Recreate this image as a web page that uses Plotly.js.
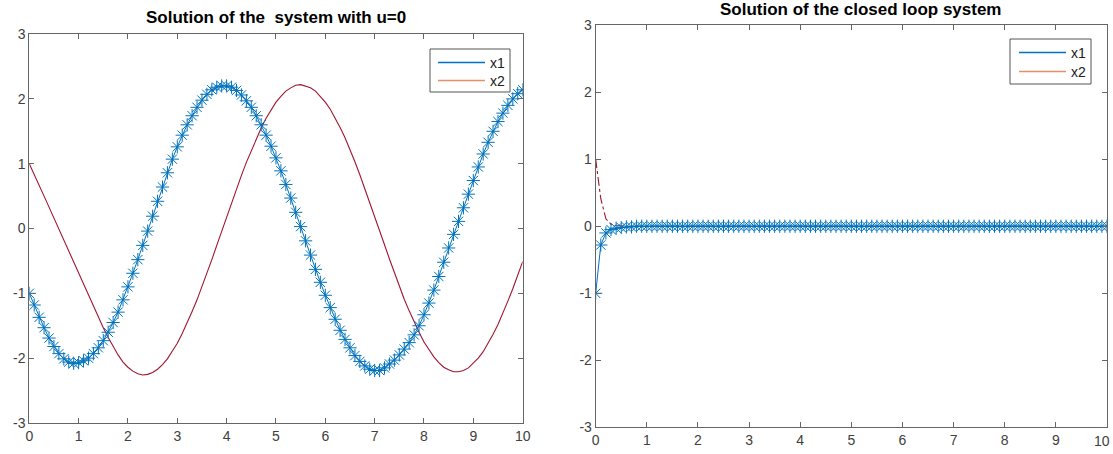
<!DOCTYPE html>
<html>
<head>
<meta charset="utf-8">
<script src="https://cdn.plot.ly/plotly-3.0.1.min.js"></script>
<style>html,body{margin:0;padding:0;background:#fff;}#chart{width:1113px;height:454px;}</style>
</head>
<body>
<div id="chart"></div>
<script>
var t = [0,0.1,0.2,0.3,0.4,0.5,0.6,0.7,0.8,0.9,
1,1.1,1.2,1.3,1.4,1.5,1.6,1.7,1.8,1.9,
2,2.1,2.2,2.3,2.4,2.5,2.6,2.7,2.8,2.9,
3,3.1,3.2,3.3,3.4,3.5,3.6,3.7,3.8,3.9,
4,4.1,4.2,4.3,4.4,4.5,4.6,4.7,4.8,4.9,
5,5.1,5.2,5.3,5.4,5.5,5.6,5.7,5.8,5.9,
6,6.1,6.2,6.3,6.4,6.5,6.6,6.7,6.8,6.9,
7,7.1,7.2,7.3,7.4,7.5,7.6,7.7,7.8,7.9,
8,8.1,8.2,8.3,8.4,8.5,8.6,8.7,8.8,8.9,
9,9.1,9.2,9.3,9.4,9.5,9.6,9.7,9.8,9.9,10];

var openX1 = [-1.00,-1.18,-1.37,-1.53,-1.69,-1.82,-1.93,-2.01,-2.06,-2.08,
-2.07,-2.04,-2.00,-1.93,-1.84,-1.73,-1.60,-1.45,-1.29,-1.10,
-0.90,-0.69,-0.48,-0.26,-0.04,0.19,0.42,0.64,0.86,1.07,
1.26,1.44,1.60,1.74,1.87,1.98,2.07,2.14,2.18,2.20,
2.20,2.18,2.13,2.06,1.97,1.87,1.74,1.60,1.44,1.27,
1.09,0.89,0.68,0.47,0.25,0.03,-0.19,-0.41,-0.63,-0.83,
-1.03,-1.22,-1.40,-1.57,-1.71,-1.84,-1.96,-2.05,-2.12,-2.17,
-2.19,-2.19,-2.15,-2.09,-2.03,-1.95,-1.86,-1.76,-1.64,-1.50,
-1.33,-1.15,-0.95,-0.74,-0.52,-0.30,-0.09,0.11,0.32,0.53,
0.74,0.95,1.15,1.33,1.50,1.65,1.78,1.90,2.00,2.08,2.14];

var openX2 = [1.00,0.84,0.67,0.50,0.33,0.16,-0.01,-0.18,-0.35,-0.52,
-0.69,-0.86,-1.03,-1.20,-1.37,-1.53,-1.68,-1.82,-1.95,-2.06,
-2.14,-2.20,-2.24,-2.26,-2.25,-2.22,-2.17,-2.10,-2.01,-1.89,
-1.77,-1.62,-1.46,-1.28,-1.10,-0.90,-0.69,-0.48,-0.26,-0.04,
0.18,0.39,0.61,0.82,1.02,1.20,1.38,1.55,1.70,1.83,
1.95,2.04,2.12,2.17,2.21,2.22,2.20,2.17,2.12,2.04,
1.95,1.84,1.71,1.56,1.40,1.22,1.03,0.83,0.62,0.41,
0.19,-0.03,-0.25,-0.47,-0.68,-0.89,-1.09,-1.27,-1.44,-1.60,
-1.75,-1.87,-1.98,-2.07,-2.14,-2.18,-2.21,-2.21,-2.19,-2.15,
-2.08,-2.00,-1.90,-1.77,-1.63,-1.48,-1.31,-1.12,-0.93,-0.72,-0.51];

var closedX1 = [-1.00,-0.28,-0.10,-0.05,-0.03,-0.02,-0.01,-0.01,0,0,
0,0,0,0,0,0,0,0,0,0,
0,0,0,0,0,0,0,0,0,0,
0,0,0,0,0,0,0,0,0,0,
0,0,0,0,0,0,0,0,0,0,
0,0,0,0,0,0,0,0,0,0,
0,0,0,0,0,0,0,0,0,0,
0,0,0,0,0,0,0,0,0,0,
0,0,0,0,0,0,0,0,0,0,
0,0,0,0,0,0,0,0,0,0,0];

var closedX2 = [1.00,0.41,0.11,0.03,0.01,0,0,0,0,0,
0,0,0,0,0,0,0,0,0,0,
0,0,0,0,0,0,0,0,0,0,
0,0,0,0,0,0,0,0,0,0,
0,0,0,0,0,0,0,0,0,0,
0,0,0,0,0,0,0,0,0,0,
0,0,0,0,0,0,0,0,0,0,
0,0,0,0,0,0,0,0,0,0,
0,0,0,0,0,0,0,0,0,0,
0,0,0,0,0,0,0,0,0,0,0];

var xTicks = [0,1,2,3,4,5,6,7,8,9,10];
var xTickText = ['0','1','2','3','4','5','6','7','8','9','10'];
var yTicks = [-3,-2,-1,0,1,2,3];
var yTickText = ['-3','-2','-1','0','1','2','3'];
var seriesNames = ['x1','x2'];
var titles = ['Solution of the  system with u=0', 'Solution of the closed loop system'];

var BLUE = '#0072BD', ORANGE = '#D95319', MAROON = '#A2142F';
var FONT = 'Liberation Sans, Arial, sans-serif';
var W = 1113, H = 454;
function px(x){ return x / W; }
function py(y){ return 1 - y / H; }

var markerStyle = {symbol:'asterisk-open', size:11, color:BLUE, line:{color:BLUE, width:1}};

var traces = [
  {x:t, y:openX2, mode:'lines', line:{color:MAROON, width:1.1}, xaxis:'x', yaxis:'y', hoverinfo:'skip'},
  {x:t, y:openX1, mode:'lines+markers', line:{color:BLUE, width:1}, marker:markerStyle, xaxis:'x', yaxis:'y', hoverinfo:'skip'},
  {x:t, y:closedX2, mode:'lines', line:{color:MAROON, width:1.1, dash:'dashdot'}, xaxis:'x2', yaxis:'y2', hoverinfo:'skip'},
  {x:t, y:closedX1, mode:'lines+markers', line:{color:BLUE, width:1}, marker:markerStyle, xaxis:'x2', yaxis:'y2', hoverinfo:'skip'}
];

var AX = '#666666', TICKC = '#404040';
function xax(dom, anchor, vals, txt){
  return {domain:dom, anchor:anchor, range:[0,10], tickvals:vals, ticktext:txt,
    ticks:'inside', ticklen:5, tickcolor:AX, mirror:'ticks', showline:true, linecolor:AX, linewidth:1,
    showgrid:false, zeroline:false, tickfont:{family:FONT, size:14, color:TICKC}, fixedrange:true};
}
function yax(dom, anchor){
  return {domain:dom, anchor:anchor, range:[-3,3], tickvals:yTicks, ticktext:yTickText,
    ticks:'inside', ticklen:5, tickcolor:AX, mirror:'ticks', showline:true, linecolor:AX, linewidth:1,
    showgrid:false, zeroline:false, tickfont:{family:FONT, size:14, color:TICKC}, fixedrange:true};
}

// legend drawn as boxes, sample lines and labels (positions in pixels)
var legends = [
  {box:[430, 49, 510, 92], rows:[62.5, 80.5], lineX:[438, 485], textX:488},
  {box:[1010, 39, 1091, 84], rows:[52.5, 71.5], lineX:[1019, 1066], textX:1069}
];
var legendColors = [BLUE, ORANGE];
var legendOpac = [1, 0.65];

var shapes = [], annotations = [];
legends.forEach(function(L){
  shapes.push({type:'rect', xref:'paper', yref:'paper', x0:px(L.box[0]), x1:px(L.box[2]), y0:py(L.box[1]), y1:py(L.box[3]),
    line:{color:'#555555', width:1}, fillcolor:'#ffffff', layer:'above'});
  L.rows.forEach(function(r, i){
    shapes.push({type:'line', xref:'paper', yref:'paper', x0:px(L.lineX[0]), x1:px(L.lineX[1]), y0:py(r), y1:py(r),
      line:{color:legendColors[i], width:1.4}, opacity:legendOpac[i], layer:'above'});
    annotations.push({text:seriesNames[i], xref:'paper', yref:'paper', x:px(L.textX), y:py(r+0.5), xanchor:'left', yanchor:'middle',
      showarrow:false, font:{family:FONT, size:14, color:'#202020'}});
  });
});

annotations.push({text:'<b>'+titles[0]+'</b>', xref:'paper', yref:'paper', x:0.248, y:py(18), xanchor:'center', yanchor:'middle', showarrow:false, font:{family:FONT, size:17, color:'#000'}});
annotations.push({text:'<b>'+titles[1]+'</b>', xref:'paper', yref:'paper', x:0.7733, y:py(10), xanchor:'center', yanchor:'middle', showarrow:false, font:{family:FONT, size:17, color:'#000'}});
// last x tick label of the right panel, kept inside the page edge
annotations.push({text:xTickText[10], xref:'paper', yref:'paper', x:px(1112), y:py(441), xanchor:'right', yanchor:'middle', showarrow:false, font:{family:FONT, size:14, color:TICKC}});

var layout = {
  width:W, height:H,
  margin:{l:0, r:0, t:0, b:0},
  paper_bgcolor:'#ffffff', plot_bgcolor:'#ffffff',
  xaxis: xax([0.0263, 0.4696], 'y', xTicks, xTickText),
  yaxis: yax([0.0683, 0.925], 'x'),
  xaxis2: xax([0.5352, 0.9946], 'y2', xTicks.slice(0,10), xTickText.slice(0,10)),
  yaxis2: yax([0.0584, 0.945], 'x2'),
  shapes: shapes,
  annotations: annotations,
  showlegend:false
};
// keep the tick mark at 10 on the right panel even though its label is an annotation
layout.xaxis2.tickvals = xTicks;
layout.xaxis2.ticktext = xTickText.slice(0,10).concat(['']);

Plotly.newPlot('chart', traces, layout, {staticPlot:true, displayModeBar:false});
</script>
</body>
</html>
